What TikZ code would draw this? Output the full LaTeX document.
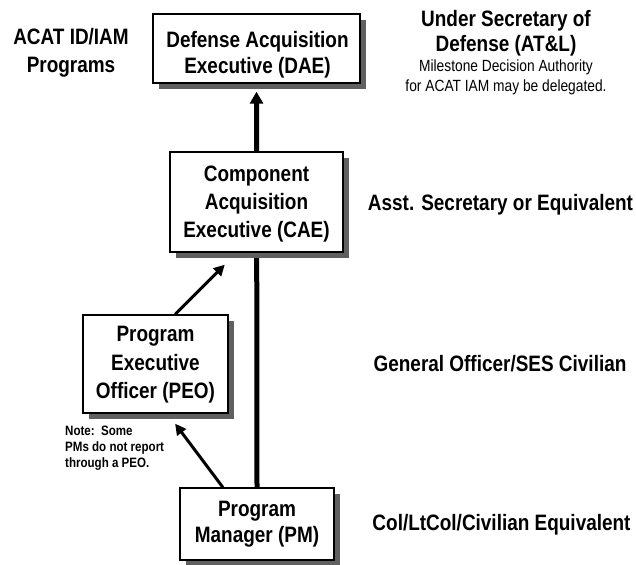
\documentclass[tikz,border=0pt]{standalone}
\usepackage{fontspec}
\newfontfamily\narrowsans{Liberation Sans}[FakeStretch=0.85]
\usetikzlibrary{arrows.meta,shadows,calc}
\definecolor{shadowgray}{RGB}{96,96,96}
\pgfdeclarelayer{background}
\pgfsetlayers{background,main}

\begin{document}
\begin{tikzpicture}[x=1pt,y=-1pt,
  rank/.style={draw=black, line width=1.4pt, fill=white, inner sep=0pt,
    drop shadow={shadow xshift=6pt, shadow yshift=-6pt, fill=shadowgray, opacity=1}},
  ranktext/.style={align=center, inner sep=0pt,
    font=\narrowsans\bfseries\fontsize{22.3}{#1}\selectfont},
  level/.style={anchor=base, inner sep=0pt, font=\narrowsans\bfseries\fontsize{22.3}{25}\selectfont},
  remark/.style={anchor=base, inner sep=0pt, font=\narrowsans\fontsize{16.2}{19}\selectfont},
  footnote/.style={anchor=base west, inner sep=0pt, font=\narrowsans\bfseries\fontsize{13.6}{16}\selectfont},
  trunk/.style={line width=5pt, -{Triangle[length=12pt,width=13pt]}, shorten >=8pt},
  branch/.style={line width=3pt, -{Triangle[length=11pt,width=11pt]}}
]
\useasboundingbox (0,0) rectangle (636,564);

% reporting chain: framed boxes with drop shadows
\node[rank, minimum width=207pt, minimum height=69pt] (dae) at (256.5,48.5) {};
\node[rank, minimum width=173pt, minimum height=100pt] (cae) at (256.5,202) {};
\node[rank, minimum width=145pt, minimum height=98pt] (peo) at (155.5,364) {};
\node[rank, minimum width=154pt, minimum height=72pt] (pm) at (257,524) {};

% box titles
\node[ranktext=26] (daetext) at (257.5,54.3) {Defense Acquisition\\Executive (DAE)};
\node[ranktext=28.3] (caetext) at (256.5,204.2) {Component\\Acquisition\\Executive (CAE)};
\node[ranktext=28.3] (peotext) at (155.5,364.8) {Program\\Executive\\Officer (PEO)};
\node[ranktext=26] (pmtext) at (257,524.6) {Program\\Manager (PM)};

% direct line from PM to DAE, running behind the CAE box
\begin{pgfonlayer}{background}
  \draw[trunk] (pm.north) -- (dae.south);
\end{pgfonlayer}

% route through the PEO
\draw[branch] ($(pm.north west)!0.28!(pm.north east)$) --
  ($(peo.south west)!0.634!(peo.south east)+(0,10)$);
\draw[branch] ($(peo.north west)!0.634!(peo.north east)$) --
  ($(cae.south west)!0.318!(cae.south east)+(0,12)$);

% program category
\node[level] (acat1) at (71,45) {ACAT ID/IAM};
\node[level] (acat2) at (71,73) {Programs};

% authority for each level
\node[level] (usd1) at (506,27) {Under Secretary of};
\node[level] (usd2) at (506,52) {Defense (AT\&L)};
\node[remark] (mda1) at (506,72) {Milestone Decision Authority};
\node[remark] (mda2) at (506,92) {for ACAT IAM may be delegated.};
\node[level] (asst) at (500.5,210) {Asst. Secretary or Equivalent};
\node[level] (gen) at (500,371) {General Officer/SES Civilian};
\node[level] (col) at (501.5,530) {Col/LtCol/Civilian Equivalent};

% note on the PEO route
\node[footnote] (note1) at (65,435) {Note:\ \ Some};
\node[footnote] (note2) at (65,451) {PMs do not report};
\node[footnote] (note3) at (65,467) {through a PEO.};
\end{tikzpicture}
\end{document}
